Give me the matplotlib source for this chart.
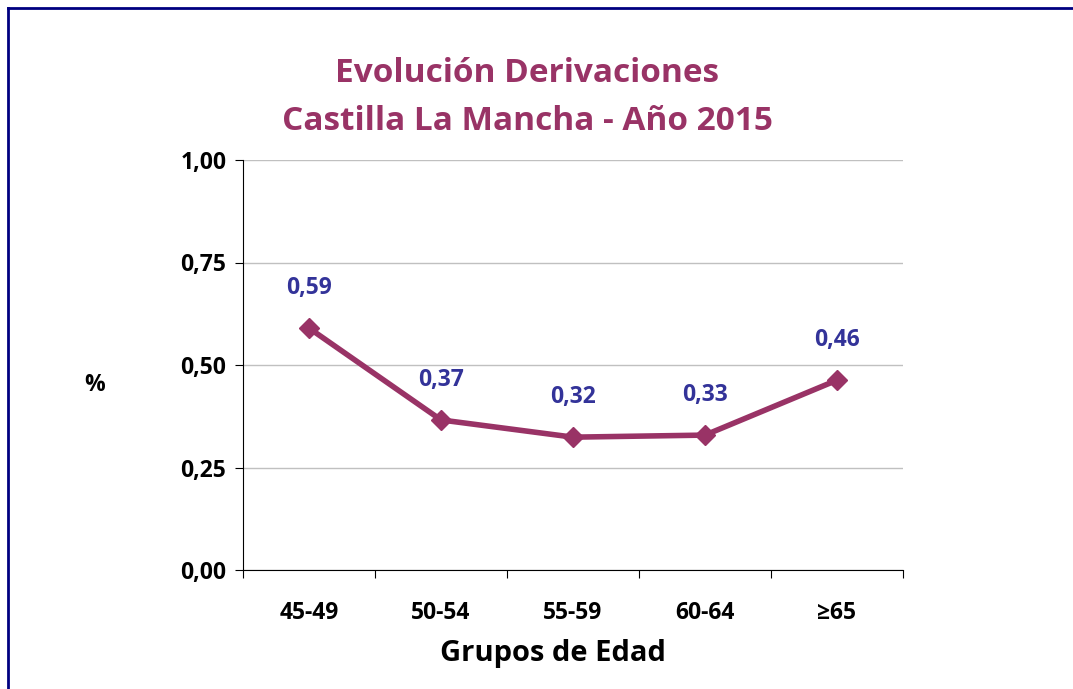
import matplotlib.pyplot as plt
from matplotlib.lines import Line2D

# data
grupos = ['45-49', '50-54', '55-59', '60-64', '≥65']
valores = [0.59, 0.366, 0.324, 0.329, 0.463]
yticks = [0.0, 0.25, 0.50, 0.75, 1.00]

title_color = '#993366'
label_color = '#333399'
plt.rcParams['font.family'] = ['Open Sans', 'DejaVu Sans']

fig = plt.figure(figsize=(10.73, 6.89), dpi=100)
W, H = 1073, 689
ax = fig.add_axes([243 / W, 1 - 570 / H, (903 - 243) / W, (570 - 160) / H])

x = range(len(grupos))
ax.plot(x, valores, color=title_color, linewidth=4, marker='D', markersize=10,
        solid_capstyle='round')
for xi, v in zip(x, valores):
    ax.annotate(f'{v:.2f}'.replace('.', ','), (xi, v), xytext=(0, 29),
                textcoords='offset points', ha='center', va='center',
                fontsize=16.5, fontweight='bold', color=label_color)

ax.set_xlim(-0.5, len(grupos) - 0.5)
ax.set_ylim(0, 1)
ax.set_yticks(yticks)
ax.set_yticklabels([f'{t:.2f}'.replace('.', ',') for t in yticks],
                   fontsize=16.5, fontweight='bold')
ax.set_xticks([i - 0.5 for i in range(len(grupos) + 1)], minor=False)
ax.set_xticklabels([])
ax.set_xticks(list(x), minor=True)
ax.set_xticklabels(grupos, minor=True, fontsize=16.5, fontweight='bold')
ax.tick_params(axis='x', which='minor', length=0, pad=22)
ax.tick_params(axis='x', which='major', length=6, direction='out')
ax.tick_params(axis='y', length=6, direction='out', pad=6)

ax.grid(axis='y', color='#c0c0c0', linewidth=1)
ax.set_axisbelow(True)
for s in ['top', 'right']:
    ax.spines[s].set_visible(False)
ax.spines['left'].set_color('black')
ax.spines['bottom'].set_color('black')

ax.set_xlabel('Grupos de Edad', fontsize=21, fontweight='bold')
ax.xaxis.set_label_coords((553 - 243) / (903 - 243), -(654 - 570) / (570 - 160))
ax.xaxis.label.set_va('center')
fig.text(95 / W, 1 - 385 / H, '%', fontsize=16.5, fontweight='bold',
         ha='center', va='center')

fig.text(527 / W, 1 - 74 / H, 'Evolución Derivaciones', fontsize=24,
         fontweight='bold', color=title_color, ha='center', va='center')
fig.text(527 / W, 1 - 122 / H, 'Castilla La Mancha - Año 2015', fontsize=24,
         fontweight='bold', color=title_color, ha='center', va='center')

# frame border (top and left)
fig.add_artist(Line2D([8 / W, 1], [1 - 8 / H, 1 - 8 / H], color='#000080',
                      linewidth=2, transform=fig.transFigure))
fig.add_artist(Line2D([8 / W, 8 / W], [0, 1 - 8 / H], color='#000080',
                      linewidth=2, transform=fig.transFigure))

fig.savefig('out.png', dpi=100)
